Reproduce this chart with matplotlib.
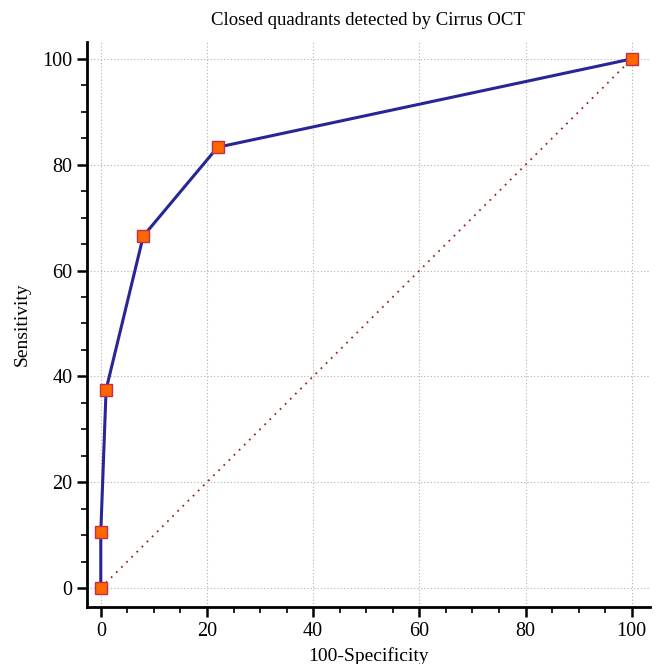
"""ROC curve: closed quadrants detected by Cirrus OCT."""

import matplotlib
matplotlib.use("Agg")
import matplotlib.pyplot as plt
from matplotlib.ticker import MultipleLocator

# ROC operating points (100-specificity, sensitivity)
fpr = [0, 0, 1, 8, 22, 100]
sensitivity = [0, 10.5, 37.5, 66.5, 83.3, 100]
diagonal = [0, 100]

plt.rcParams["font.family"] = ["Liberation Serif", "DejaVu Serif"]

fig = plt.figure(figsize=(6.56, 6.64), dpi=100)
ax = fig.add_axes([0.1326, 0.0858, 0.858, 0.851])

ax.plot(diagonal, diagonal, linestyle=(0, (1, 3)), color="#a02020", linewidth=1.3, zorder=2)
ax.plot(fpr, sensitivity, color="#262696", linewidth=2.2, zorder=3,
        marker="s", markersize=8.5, markerfacecolor="#ff6600",
        markeredgecolor="#c0304a", markeredgewidth=1.0)

ax.set_xlim(-2.6, 103.4)
ax.set_ylim(-3.6, 103.2)
ax.xaxis.set_major_locator(MultipleLocator(20))
ax.yaxis.set_major_locator(MultipleLocator(20))
ax.xaxis.set_minor_locator(MultipleLocator(5))
ax.yaxis.set_minor_locator(MultipleLocator(5))

ax.grid(True, which="major", linestyle=(0, (1, 2)), color="#b0b0b0", linewidth=0.8)
ax.set_axisbelow(True)

for side in ("top", "right"):
    ax.spines[side].set_visible(False)
for side in ("left", "bottom"):
    ax.spines[side].set_linewidth(2.0)

ax.tick_params(which="major", direction="out", length=7, width=1.8, labelsize=14.5)
ax.tick_params(which="minor", direction="out", length=4, width=1.2)

ax.set_title("Closed quadrants detected by Cirrus OCT", fontsize=13.5, pad=12)
ax.set_xlabel("100-Specificity", fontsize=14, labelpad=5)
ax.set_ylabel("Sensitivity", fontsize=14, labelpad=8)

fig.savefig("out.png", dpi=100)
